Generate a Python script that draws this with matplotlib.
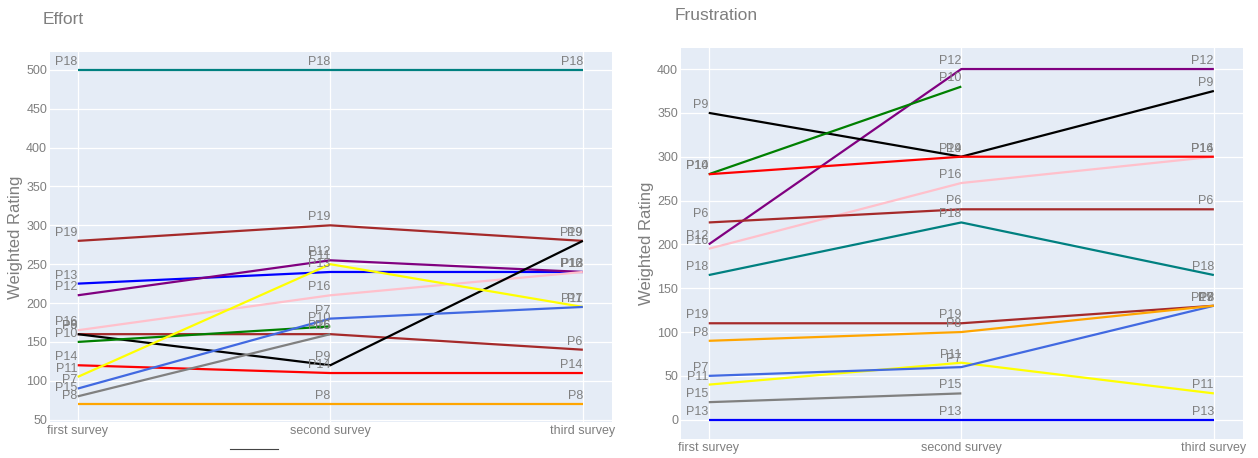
import numpy as np
import matplotlib
matplotlib.use("Agg")
import matplotlib.pyplot as plt
from matplotlib.lines import Line2D

nan = np.nan

surveys = ["first survey", "second survey", "third survey"]
participants = ["P18", "P19", "P13", "P12", "P16", "P6", "P9", "P10", "P14", "P11", "P7", "P15", "P8"]
colors = ["teal", "brown", "blue", "purple", "pink", "brown", "black", "green", "red", "yellow", "royalblue", "gray", "orange"]

effort_first = [500, 280, 225, 210, 165, 160, 160, 150, 120, 105, 90, 80, 70]
effort_second = [500, 300, 240, 255, 210, 160, 120, 170, 110, 250, 180, 160, 70]
effort_third = [500, 280, 240, 240, 240, 140, 280, nan, 110, 195, 195, nan, 70]

frustration_first = [165, 110, 0, 200, 195, 225, 350, 280, 280, 40, 50, 20, 90]
frustration_second = [225, 110, 0, 400, 270, 240, 300, 380, 300, 65, 60, 30, 100]
frustration_third = [165, 130, 0, 400, 300, 240, 375, nan, 300, 30, 130, nan, 130]

plt.rcParams['font.family'] = ['Liberation Sans', 'DejaVu Sans']
grey = "#7f7f7f"
bg = "#E5ECF6"


def draw(ax, first, second, third, title, ylim, yticks, title_x, title_y):
    ax.set_facecolor(bg)
    x = np.arange(len(surveys))
    for i, name in enumerate(participants):
        vals = np.array([first[i], second[i], third[i]], dtype=float)
        ok = ~np.isnan(vals)
        ax.plot(x[ok], vals[ok], color=colors[i], lw=1.6, solid_capstyle='butt', zorder=3)
        for xi, yi in zip(x[ok], vals[ok]):
            ax.annotate(name, (xi, yi), xytext=(0, 1.5), textcoords='offset points',
                        ha='right', va='bottom', fontsize=9, color=grey, zorder=4)
    ax.set_xlim(-0.11, 2.115)
    ax.set_ylim(*ylim)
    ax.set_xticks(x)
    ax.set_xticklabels(surveys)
    ax.set_yticks(yticks)
    ax.grid(True, color='white', lw=0.9)
    ax.set_axisbelow(True)
    for s in ax.spines.values():
        s.set_visible(False)
    ax.tick_params(length=0, colors=grey, labelsize=9, pad=2)
    ax.set_ylabel("Weighted Rating", color=grey, fontsize=12, labelpad=2)
    ax.figure.text(title_x, title_y, title, color=grey, fontsize=12.5, va='center')


fig = plt.figure(figsize=(12.58, 4.58), dpi=100)
ax1 = fig.add_axes([0.0397, 0.0786, 0.4467, 0.8079])
ax2 = fig.add_axes([0.5413, 0.0415, 0.4467, 0.8537])

draw(ax1, effort_first, effort_second, effort_third, "Effort",
     (47, 523), np.arange(50, 501, 50), 0.034, 1 - 20 / 458)
draw(ax2, frustration_first, frustration_second, frustration_third, "Frustration",
     (-22, 424), np.arange(0, 401, 50), 0.536, 1 - 15 / 458)

fig.add_artist(Line2D([230 / 1258, 278 / 1258], [1 - 449 / 458] * 2, color='#444444', lw=0.8))

fig.savefig("out.png", dpi=100)
